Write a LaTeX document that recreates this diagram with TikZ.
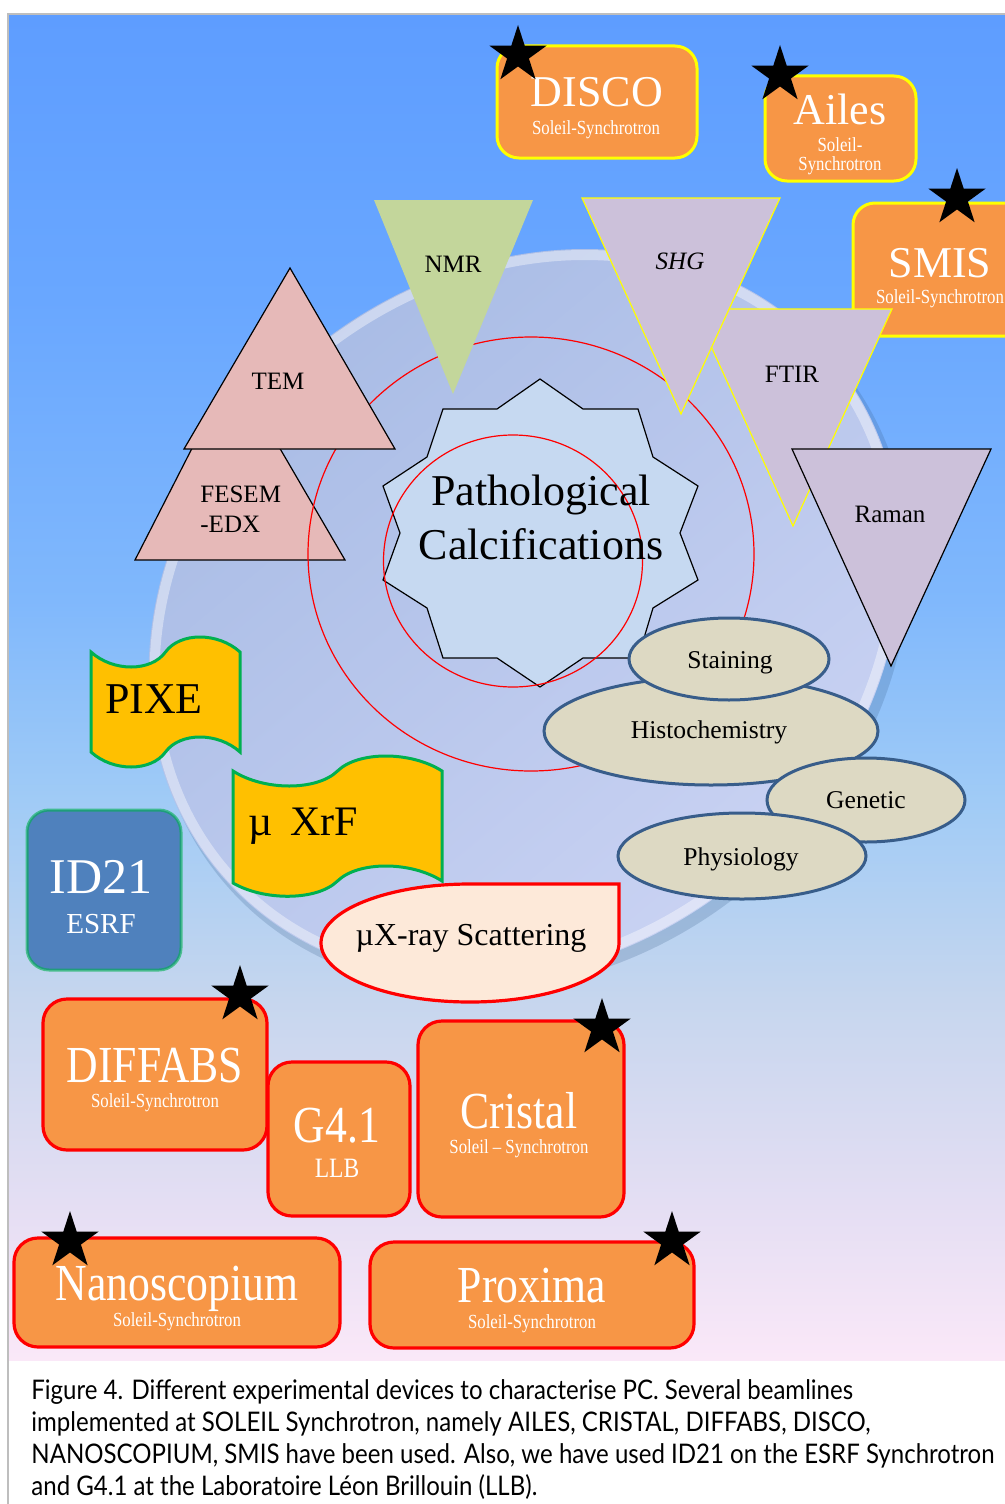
\documentclass[tikz,border=0pt]{standalone}
\usepackage{fontspec}
\setmainfont{Liberation Serif}
\newfontfamily\condfont[FakeStretch=0.84]{Liberation Serif}
\newfontfamily\capfont[FakeStretch=0.89]{Lato}
\usetikzlibrary{shapes.geometric}
\definecolor{orangeF}{HTML}{F79646}
\definecolor{ybord}{HTML}{FFFF00}
\definecolor{rbord}{HTML}{FF0000}
\definecolor{ellF}{HTML}{DDD9C3}
\definecolor{ellD}{HTML}{385D8A}
\definecolor{goldF}{HTML}{FFC000}
\definecolor{greenB}{HTML}{00B050}
\definecolor{blueF}{HTML}{4F81BD}
\definecolor{pinkF}{HTML}{E6B9B8}
\definecolor{nmrF}{HTML}{C3D69B}
\definecolor{lilacF}{HTML}{CCC1DA}
\definecolor{peachF}{HTML}{FDE9D9}
\definecolor{sealF}{HTML}{C6D9F1}
\definecolor{bgA}{RGB}{250,232,248}
\definecolor{bgB}{RGB}{228,222,243}
\definecolor{bgC}{RGB}{198,214,238}
\definecolor{bgD}{RGB}{160,203,246}
\definecolor{bgE}{RGB}{128,184,252}
\definecolor{bgF}{RGB}{105,167,255}
\definecolor{bgG}{RGB}{94,157,255}
\definecolor{discA}{RGB}{166,186,228}
\definecolor{discB}{RGB}{204,212,244}
\definecolor{frameG}{RGB}{190,190,190}
\pgfdeclareverticalshading{panelbg}{100bp}{color(0bp)=(bgA); color(25bp)=(bgA); color(30.9bp)=(bgB); color(38.4bp)=(bgC); color(45.8bp)=(bgD); color(53.2bp)=(bgE); color(64.4bp)=(bgF); color(75bp)=(bgG); color(100bp)=(bgG)}
\tikzset{
  txt/.style={inner sep=0pt, anchor=base},
  lbl/.style={txt, font=\fontsize{12.5}{14}\selectfont},
  ellbl/.style={txt, font=\fontsize{12.8}{14}\selectfont},
  big/.style={txt, text=white, font=\fontsize{22}{24}\selectfont},
  bigc/.style={txt, text=white, font=\condfont\fontsize{26}{28}\selectfont},
  subt/.style={txt, text=white, font=\condfont\fontsize{10}{12}\selectfont},
  ybox/.style={fill=orangeF, draw=ybord, line width=1.5pt, rounded corners=11pt},
  rbox/.style={fill=orangeF, draw=rbord, line width=1.6pt, rounded corners=12pt},
  bstar/.style={star, star points=5, star point ratio=2.618, fill=black, inner sep=0pt, minimum size=30pt},
  tri/.style={draw=black, line width=0.6pt},
  ytri/.style={fill=lilacF, draw=ybord, line width=0.6pt},
  redc/.style={draw=rbord, line width=0.6pt},
  ell/.style={fill=ellF, draw=ellD, line width=1.5pt},
  wave/.style={fill=goldF, draw=greenB, line width=1.5pt},
  capt/.style={inner sep=0pt, anchor=base west, font=\capfont\fontsize{13.5}{16}\selectfont}
}
\begin{document}
\begin{tikzpicture}[x=0.5pt,y=-0.5pt]
\useasboundingbox (0,0) rectangle (1005,1504);
\fill[white] (0,0) rectangle (1005,1504);
\begin{scope}
\clip (8,14) rectangle (1005,1360);
\fill[shading=panelbg] (8,14) rectangle (1005,1360);
% disc
\fill[ellD, opacity=0.22, rotate around={40:(531,623)}] (531,623) ellipse [x radius=402, y radius=342];
\shade[top color=discA, bottom color=discB, shading angle=40, rotate around={40:(525,615)}] (525,615) ellipse [x radius=400, y radius=340];
\draw[white, opacity=0.4, line width=5pt, rotate around={40:(525,615)}] (525,615) ellipse [x radius=394, y radius=334];
% top orange boxes
\draw[ybox] (853,203) rectangle (1040,336);
\node[big] (smis) at (940,277) {SMIS};
\node[subt] (smiss) at (940,303) {Soleil-Synchrotron};
\draw[ybox] (497,46) rectangle (697,158);
\node[big] (disco) at (597,107) {DISCO};
\node[subt] (discos) at (596,134) {Soleil-Synchrotron};
\draw[ybox] (765,76) rectangle (916,181);
\node[big] (ailes) at (840,125) {Ailes};
\node[subt] (ailes1) at (840,151) {Soleil-};
\node[subt] (ailes2) at (840,170) {Synchrotron};
\node[bstar] (s1) at (518,55) {};
\node[bstar] (s2) at (780,75) {};
\node[bstar] (s3) at (957,198) {};
% FESEM
\draw[tri, fill=pinkF] (135,560) -- (233,368) -- (345,560) -- cycle;
\node[lbl, anchor=base west] (fesem) at (200,502) {FESEM};
\node[lbl, anchor=base west] (edx) at (200,532) {-EDX};
% red circles and seal
\draw[redc] (531,554) ellipse [x radius=223, y radius=217];
\draw[black, line width=0.6pt, fill=sealF] (540,379) -- (583,409) -- (638,409) -- (653,457) -- (698,486) -- (680,533) -- (698,580) -- (653,608) -- (638,658) -- (583,658) -- (540,687) -- (497,658) -- (443,658) -- (427,608) -- (383,580) -- (400,533) -- (383,486) -- (427,457) -- (443,409) -- (497,409) -- cycle;
\draw[redc] (513,561) ellipse [x radius=129.5, y radius=126];
\node[txt, font=\fontsize{22}{24}\selectfont] (patho) at (541,505) {Pathological};
\node[txt, font=\fontsize{22}{24}\selectfont] (calc) at (541,559) {Calcifications};
% TEM and NMR
\draw[tri, fill=pinkF] (184,449) -- (290,268) -- (395,449) -- cycle;
\node[lbl] (tem) at (278,389) {TEM};
\fill[nmrF] (374,200) -- (533,200) -- (453,394) -- cycle;
\node[lbl] (nmr) at (453,272) {NMR};
% FTIR, SHG, Raman
\draw[ytri] (694,309) -- (892,309) -- (793,526) -- cycle;
\node[lbl] (ftir) at (792,382) {FTIR};
\draw[ytri] (582,198) -- (780,198) -- (681,414) -- cycle;
\node[lbl, font=\fontsize{12.5}{14}\selectfont\itshape] (shg) at (680,269) {SHG};
\draw[tri, fill=lilacF] (792,449) -- (991,449) -- (891,666) -- cycle;
\node[lbl] (raman) at (890,522) {Raman};
% ellipses
\draw[ell] (711,731) ellipse [x radius=167, y radius=54];
\node[ellbl] (histo) at (709,738) {Histochemistry};
\draw[ell] (729,659) ellipse [x radius=100, y radius=41];
\node[ellbl] (stain) at (730,668) {Staining};
\draw[ell] (866,800) ellipse [x radius=99, y radius=42];
\node[ellbl] (gen) at (866,808) {Genetic};
\draw[ell] (742,856) ellipse [x radius=124, y radius=43];
\node[ellbl] (phys) at (741,865) {Physiology};
% PIXE
\draw[wave] (91,652) .. controls (113,672) and (151,672) .. (165.5,652) .. controls (180,632) and (218,632) .. (240,652) -- (240,752) .. controls (218,732) and (180,732) .. (165.5,752) .. controls (151,772) and (113,772) .. (91,752) -- cycle;
\node[txt, font=\fontsize{22}{24}\selectfont] (pixe) at (154,713) {PIXE};
% muXrF
\draw[wave] (233,771) .. controls (264,791) and (317,791) .. (337.5,771) .. controls (358,751) and (411,751) .. (442,771) -- (442,881) .. controls (411,861) and (358,861) .. (337.5,881) .. controls (317,901) and (264,901) .. (233,883) -- cycle;
\node[txt, anchor=base west, font=\fontsize{21}{24}\selectfont] (mux) at (248,835) {µ\hspace{9pt}XrF};
% ID21
\draw[fill=blueF, draw=greenB, draw opacity=0.6, line width=1.5pt, rounded corners=11pt] (27,810) rectangle (181,970);
\node[txt, text=white, font=\fontsize{25}{28}\selectfont] (id21) at (101,893) {ID21};
\node[txt, text=white, font=\fontsize{14.5}{16}\selectfont] (esrf) at (101,933) {ESRF};
% muX-ray scattering
\draw[fill=peachF, draw=rbord, line width=1.6pt] (619,943) arc[start angle=0, end angle=270, x radius=149, y radius=59] -- (619,884) -- cycle;
\node[txt, font=\fontsize{16}{18}\selectfont] (scat) at (471,945) {µX-ray Scattering};
% bottom boxes
\draw[rbox] (43,999) rectangle (267,1150);
\node[bigc] (diff) at (155,1082) {DIFFABS};
\node[subt] (diffs) at (155,1107) {Soleil-Synchrotron};
\draw[rbox] (268,1062) rectangle (410,1216);
\node[bigc] (g41) at (337,1142) {G4.1};
\node[txt, text=white, font=\condfont\fontsize{14}{16}\selectfont] (llb) at (337,1177) {LLB};
\draw[rbox] (418,1021) rectangle (624,1217);
\node[bigc] (crist) at (519,1128) {Cristal};
\node[subt] (crists) at (519,1153) {Soleil – Synchrotron};
\draw[rbox] (14,1238) rectangle (340,1347);
\node[bigc] (nano) at (177,1300) {Nanoscopium};
\node[subt] (nanos) at (177,1326) {Soleil-Synchrotron};
\draw[rbox] (370,1242) rectangle (694,1348);
\node[bigc] (prox) at (532,1302) {Proxima};
\node[subt] (proxs) at (532,1328) {Soleil-Synchrotron};
\node[bstar] (s4) at (240,995) {};
\node[bstar] (s5) at (602,1028) {};
\node[bstar] (s6) at (70,1241) {};
\node[bstar] (s7) at (672,1241) {};
\end{scope}
% frame
\draw[frameG, line width=0.6pt] (8,1504) -- (8,14) -- (1005,14);
% caption
\node[capt] (c1) at (31,1399) {Figure 4. Different experimental devices to characterise PC. Several beamlines};
\node[capt] (c2) at (31,1431) {implemented at SOLEIL Synchrotron, namely AILES, CRISTAL, DIFFABS, DISCO,};
\node[capt] (c3) at (31,1463) {NANOSCOPIUM, SMIS have been used. Also, we have used ID21 on the ESRF Synchrotron};
\node[capt] (c4) at (31,1495) {and G4.1 at the Laboratoire Léon Brillouin (LLB).};
\end{tikzpicture}
\end{document}
